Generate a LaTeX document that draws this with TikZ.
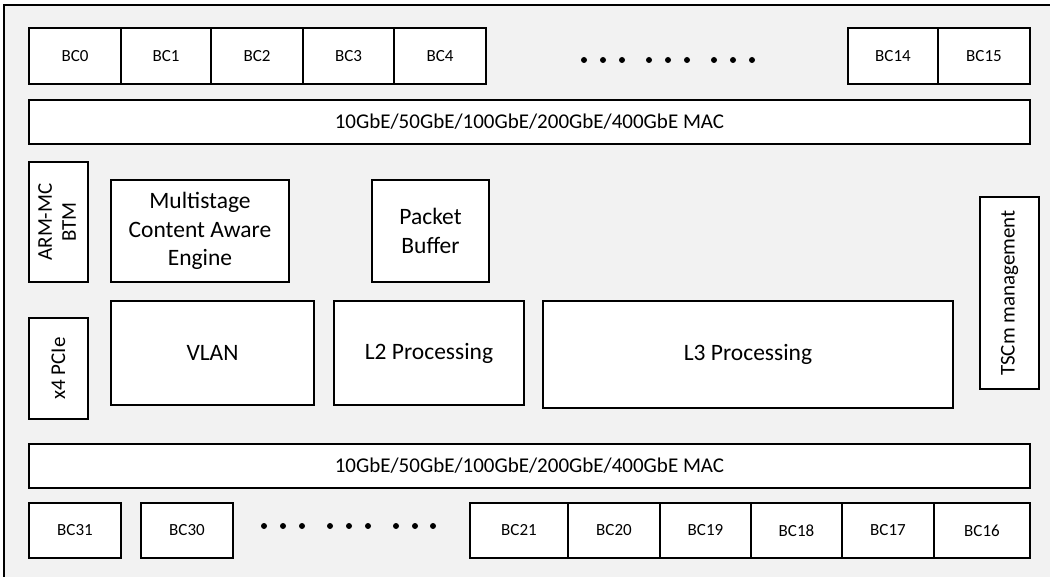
\documentclass[tikz,border=0pt]{standalone}
\usepackage{fontspec}
\setmainfont{Carlito}
\definecolor{panel}{HTML}{F2F2F2}
\tikzset{
  box/.style={draw=black, line width=1.5pt, fill=white, inner sep=0pt, align=center},
  bcfont/.style={font=\fontsize{17}{20}\selectfont},
  macfont/.style={font=\fontsize{21}{25}\selectfont},
  midfont/.style={font=\fontsize{23.5}{28.5}\selectfont},
  sidefont/.style={font=\fontsize{21}{27}\selectfont},
  dot/.style={fill=black}
}
\begin{document}
\begin{tikzpicture}[x=1pt,y=-1pt]
\clip (0,0) rectangle (1050,577);
\fill[white] (0,0) rectangle (1050,577);
\filldraw[fill=panel, draw=black, line width=1.5pt] (4,5) rectangle (1070,600);
% top BC row
\node[box,bcfont,minimum width=92pt,minimum height=56pt] (bc0) at (75,56) {BC0};
\node[box,bcfont,minimum width=90pt,minimum height=56pt] (bc1) at (166,56) {BC1};
\node[box,bcfont,minimum width=92pt,minimum height=56pt] (bc2) at (257,56) {BC2};
\node[box,bcfont,minimum width=91pt,minimum height=56pt] (bc3) at (348.5,56) {BC3};
\node[box,bcfont,minimum width=92pt,minimum height=56pt] (bc4) at (440,56) {BC4};
\node[box,bcfont,minimum width=90pt,minimum height=56pt] (bc14) at (893,56) {BC14};
\node[box,bcfont,minimum width=92pt,minimum height=56pt] (bc15) at (984,56) {BC15};
\foreach \x in {584,603,622,649,668,687,714,733,752} \fill[dot] (\x,60) circle (3);
% MACs
\node[box,macfont,minimum width=1001pt,minimum height=44pt] (mactop) at (529.5,122) {10GbE/50GbE/100GbE/200GbE/400GbE MAC};
\node[box,macfont,minimum width=1001pt,minimum height=44pt] (macbot) at (529.5,466) {10GbE/50GbE/100GbE/200GbE/400GbE MAC};
% middle
\node[box,sidefont,minimum width=59pt,minimum height=120pt] (arm) at (58.5,222) {\rotatebox{90}{\begin{tabular}{@{}c@{}}ARM-MC\\[-3pt]BTM\end{tabular}}};
\node[box,midfont,minimum width=178pt,minimum height=102pt] (mcae) at (200,231) {Multistage\\Content Aware\\Engine};
\node[box,midfont,minimum width=117pt,minimum height=102pt] (pbuf) at (430.5,231) {Packet\\Buffer};
\node[box,sidefont,minimum width=59pt,minimum height=101pt] (pcie) at (58.5,368.5) {\rotatebox{90}{x4 PCIe}};
\node[box,midfont,minimum width=203pt,minimum height=104pt] (vlan) at (212.5,353) {VLAN};
\node[box,midfont,minimum width=190pt,minimum height=104pt] (l2) at (429,353) {L2 Processing};
\node[box,midfont,minimum width=410pt,minimum height=107pt] (l3) at (748,354.5) {L3 Processing};
\node[box,sidefont,minimum width=59pt,minimum height=192pt] (tscm) at (1009.5,293) {\rotatebox{90}{TSCm management}};
% bottom BC row
\node[box,bcfont,minimum width=92pt,minimum height=55pt] (bc31) at (75,530.5) {BC31};
\node[box,bcfont,minimum width=92pt,minimum height=55pt] (bc30) at (187,530.5) {BC30};
\foreach \x in {264,283,302,330,349,368,396,415,433} \fill[dot] (\x,526) circle (3);
\node[box,bcfont,minimum width=98pt,minimum height=55pt] (bc21) at (519,530.5) {BC21};
\node[box,bcfont,minimum width=92pt,minimum height=55pt] (bc20) at (614,530.5) {BC20};
\node[box,bcfont,minimum width=91pt,minimum height=55pt] (bc19) at (705.5,530.5) {BC19};
\node[box,bcfont,minimum width=91pt,minimum height=55pt] (bc18) at (796.5,530.5) {BC18};
\node[box,bcfont,minimum width=92pt,minimum height=55pt] (bc17) at (888,530.5) {BC17};
\node[box,bcfont,minimum width=96pt,minimum height=55pt] (bc16) at (982,530.5) {BC16};
\end{tikzpicture}
\end{document}
